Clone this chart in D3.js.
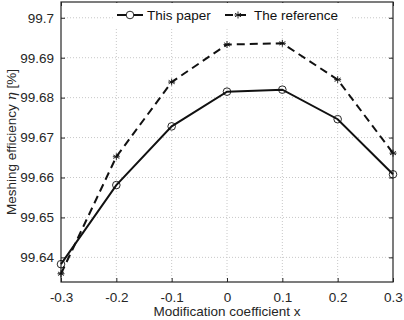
<!DOCTYPE html>
<html>
<head>
<meta charset="utf-8">
<script src="https://cdn.jsdelivr.net/npm/d3@7"></script>
<style>
body{margin:0;background:#fff;}
svg{font-family:"Liberation Sans",Arial,sans-serif;}
</style>
</head>
<body>
<svg id="chart" width="404" height="320"></svg>
<script>
var xs = [-0.3, -0.2, -0.1, 0, 0.1, 0.2, 0.3];
var thisPaper = [99.6383, 99.6581, 99.6728, 99.6815, 99.6820, 99.6746, 99.6608];
var theReference = [99.6359, 99.6652, 99.6839, 99.6933, 99.6936, 99.6845, 99.6661];
var yTicks = [99.64, 99.65, 99.66, 99.67, 99.68, 99.69, 99.7];
var xTicks = [-0.3, -0.2, -0.1, 0, 0.1, 0.2, 0.3];

var svg = d3.select("#chart");
var pLeft = 61, pRight = 393, pTop = 2, pBottom = 282;

var x = d3.scaleLinear().domain([-0.3, 0.3]).range([pLeft, pRight]);
var y = d3.scaleLinear().domain([99.63383, 99.70395]).range([pBottom, pTop]);

// grid
svg.append("g").selectAll("line").data(xTicks.slice(1, -1)).enter().append("line")
  .attr("x1", x).attr("x2", x).attr("y1", pTop).attr("y2", pBottom)
  .attr("stroke", "#c8c8c8").attr("stroke-width", 1).attr("stroke-dasharray", "1,2");
svg.append("g").selectAll("line").data(yTicks).enter().append("line")
  .attr("y1", y).attr("y2", y).attr("x1", pLeft).attr("x2", pRight)
  .attr("stroke", "#c8c8c8").attr("stroke-width", 1).attr("stroke-dasharray", "1,2");

// axes
var xAxis = d3.axisBottom(x).tickValues(xTicks).tickSizeInner(-4).tickSizeOuter(0).tickPadding(10)
  .tickFormat(function(d){ return d === 0 ? "0" : d.toFixed(1); });
var gx = svg.append("g").attr("transform", "translate(0," + pBottom + ")").call(xAxis);
var yAxis = d3.axisLeft(y).tickValues(yTicks).tickSizeInner(-4).tickSizeOuter(0).tickPadding(7)
  .tickFormat(function(d){ return String(+d.toFixed(2)); });
var gy = svg.append("g").attr("transform", "translate(" + pLeft + ",0)").call(yAxis);
var yAxisR = d3.axisRight(y).tickValues(yTicks).tickSizeInner(-4).tickSizeOuter(0).tickFormat("");
var gyr = svg.append("g").attr("transform", "translate(" + pRight + ",0)").call(yAxisR);
var xAxisT = d3.axisTop(x).tickValues(xTicks).tickSizeInner(-4).tickSizeOuter(0).tickFormat("");
var gxt = svg.append("g").attr("transform", "translate(0," + pTop + ")").call(xAxisT);

[gx, gy, gyr, gxt].forEach(function(g){
  g.select(".domain").remove();
  g.selectAll("line").attr("stroke", "#262626");
  g.selectAll("text").attr("fill", "#262626").style("font-size", "13.5px")
    .style("font-family", "'Liberation Sans',Arial,sans-serif");
});

svg.append("rect").attr("x", pLeft).attr("y", pTop).attr("width", pRight - pLeft).attr("height", pBottom - pTop)
  .attr("fill", "none").attr("stroke", "#262626").attr("stroke-width", 1.2);

// lines
var line = d3.line().x(function(d){ return x(d[0]); }).y(function(d){ return y(d[1]); });
var paperPts = xs.map(function(v, i){ return [v, thisPaper[i]]; });
var refPts = xs.map(function(v, i){ return [v, theReference[i]]; });

function star(g, cx, cy, r){
  var s = "";
  [0, 60, 120].forEach(function(a){
    var t = a * Math.PI / 180;
    s += "M" + (cx - r * Math.sin(t)) + "," + (cy - r * Math.cos(t)) + "L" + (cx + r * Math.sin(t)) + "," + (cy + r * Math.cos(t));
  });
  s += "M" + (cx - r) + "," + cy + "L" + (cx + r) + "," + cy;
  g.append("path").attr("d", s).attr("stroke", "#111").attr("stroke-width", 0.9).attr("fill", "none");
}

svg.append("path").datum(refPts).attr("d", line).attr("fill", "none")
  .attr("stroke", "#111").attr("stroke-width", 2).attr("stroke-dasharray", "8,5");
var gs = svg.append("g");
refPts.forEach(function(p){ star(gs, x(p[0]), y(p[1]), 3.5); });

svg.append("path").datum(paperPts).attr("d", line).attr("fill", "none")
  .attr("stroke", "#111").attr("stroke-width", 2);
svg.append("g").selectAll("circle").data(paperPts).enter().append("circle")
  .attr("cx", function(d){ return x(d[0]); }).attr("cy", function(d){ return y(d[1]); })
  .attr("r", 3.8).attr("fill", "none").attr("stroke", "#111").attr("stroke-width", 0.9);

// legend
var lg = svg.append("g");
lg.append("rect").attr("x", 114).attr("y", 3).attr("width", 238).attr("height", 24).attr("fill", "#fff");
lg.append("line").attr("x1", 117).attr("x2", 143).attr("y1", 15).attr("y2", 15).attr("stroke", "#111").attr("stroke-width", 2);
lg.append("circle").attr("cx", 130).attr("cy", 15).attr("r", 3.8).attr("fill", "#fff").attr("stroke", "#111").attr("stroke-width", 0.9);
lg.append("text").attr("x", 147).attr("y", 20).text("This paper").style("font-size", "13.5px").attr("fill", "#111");
lg.append("line").attr("x1", 225).attr("x2", 251).attr("y1", 15).attr("y2", 15).attr("stroke", "#111").attr("stroke-width", 2).attr("stroke-dasharray", "8,5");
star(lg, 238, 15, 3.5);
lg.append("text").attr("x", 254).attr("y", 20).text("The reference").style("font-size", "13.5px").attr("fill", "#111");

// axis labels
svg.append("text").attr("x", (pLeft + pRight) / 2).attr("y", 316).attr("text-anchor", "middle")
  .style("font-size", "13.5px").attr("fill", "#262626").text("Modification coefficient x");
var yl = svg.append("text").attr("transform", "translate(16," + ((pTop + pBottom) / 2) + ") rotate(-90)")
  .attr("text-anchor", "middle").style("font-size", "13.5px").attr("fill", "#262626");
yl.append("tspan").text("Meshing efficiency ");
yl.append("tspan").style("font-style", "italic").style("font-family", "'DejaVu Serif',serif").text("η");
yl.append("tspan").text(" [%]");
</script>
</body>
</html>
